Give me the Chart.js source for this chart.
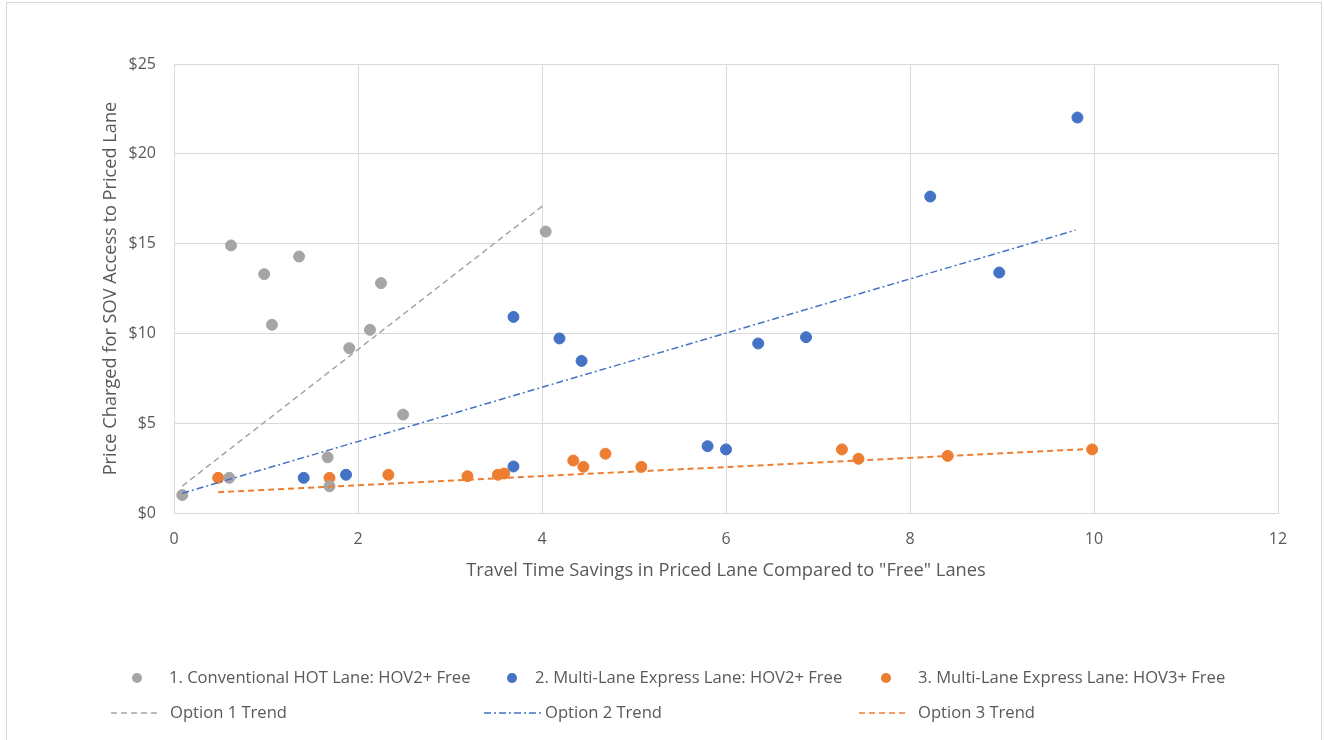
<!DOCTYPE html>
<html>
<head>
<meta charset="utf-8">
<script src="https://cdn.jsdelivr.net/npm/chart.js@4"></script>
<style>
  html, body { margin: 0; padding: 0; background: #fff; }
  #wrap { position: absolute; left: 0; top: 0; width: 1324px; height: 740px; }
  #frame { position: absolute; left: 6px; top: 2px; width: 1314px; height: 745px;
           border: 1px solid #d6d6d6; pointer-events: none; }
</style>
</head>
<body>
<div id="wrap"><canvas id="chart" width="1324" height="740"></canvas></div>
<div id="frame"></div>
<script>
// Dados
const hotX = [0.09, 0.60, 0.62, 0.98, 1.065, 1.36, 1.67, 1.69, 1.905, 2.13, 2.25, 2.49, 4.04];
const hotY = [1.00, 1.96, 14.9, 13.3, 10.48, 14.28, 3.10, 1.49, 9.18, 10.2, 12.8, 5.48, 15.67];

const hov2X = [1.41, 1.87, 3.69, 3.69, 4.19, 4.43, 5.80, 6.00, 6.35, 6.87, 8.22, 8.97, 9.82];
const hov2Y = [1.96, 2.13, 10.92, 2.59, 9.72, 8.47, 3.72, 3.54, 9.44, 9.79, 17.62, 13.39, 22.02];

const hov3X = [0.48, 1.69, 2.33, 3.19, 3.52, 3.59, 4.34, 4.45, 4.69, 5.08, 7.26, 7.44, 8.41, 9.98];
const hov3Y = [1.96, 1.96, 2.13, 2.05, 2.13, 2.20, 2.92, 2.57, 3.30, 2.57, 3.54, 3.02, 3.18, 3.54];

// Linhas de tendência (extremos)
const trend1X = [0.09, 4.02];
const trend1Y = [1.5, 17.15];
const trend2X = [0.09, 9.80];
const trend2Y = [1.1, 15.75];
const trend3X = [0.48, 9.98];
const trend3Y = [1.16, 3.57];

const seriesNames = [
    '1. Conventional HOT Lane: HOV2+ Free',
    '2. Multi-Lane Express Lane: HOV2+ Free',
    '3. Multi-Lane Express Lane: HOV3+ Free'
];
const trendNames = ['Option 1 Trend', 'Option 2 Trend', 'Option 3 Trend'];

const xTicks = [0, 2, 4, 6, 8, 10, 12];
const yTicks = [0, 5, 10, 15, 20, 25];

const GRAY = '#a5a5a5';
const BLUE = '#4472c4';
const ORANGE = '#ed7d31';
const TEXT = '#595959';
const GRID = '#d9d9d9';
const FONT = "'Open Sans', sans-serif";

const toPoints = (xs, ys) => xs.map((x, i) => ({ x: x, y: ys[i] }));

const dashes = [[6, 4], [7, 3, 2, 3], [6, 4]];
const colors = [GRAY, BLUE, ORANGE];

// Legenda desenhada no canvas
const legendPlugin = {
    id: 'excelLegend',
    afterDraw(chart) {
        const ctx = chart.ctx;
        const cols = [
            { marker: 137, text: 169, lineFrom: 111, lineTo: 161, text2: 170 },
            { marker: 512, text: 535, lineFrom: 484, lineTo: 541, text2: 545 },
            { marker: 886, text: 918, lineFrom: 859, lineTo: 909, text2: 918 }
        ];
        const row1 = 678, row2 = 713;
        ctx.save();
        ctx.font = '16.6px ' + FONT;
        ctx.fillStyle = TEXT;
        ctx.textBaseline = 'middle';
        cols.forEach((c, i) => {
            ctx.fillStyle = colors[i];
            ctx.beginPath();
            ctx.arc(c.marker, row1, 5, 0, Math.PI * 2);
            ctx.fill();
            ctx.fillStyle = TEXT;
            ctx.fillText(seriesNames[i], c.text, row1);

            ctx.strokeStyle = colors[i];
            ctx.lineWidth = 1.5;
            ctx.setLineDash(dashes[i]);
            ctx.beginPath();
            ctx.moveTo(c.lineFrom, row2);
            ctx.lineTo(c.lineTo, row2);
            ctx.stroke();
            ctx.setLineDash([]);
            ctx.fillText(trendNames[i], c.text2, row2);
        });
        ctx.restore();
    }
};

const pointSet = (label, xs, ys, color) => ({
    label: label,
    data: toPoints(xs, ys),
    backgroundColor: color,
    borderColor: color,
    pointRadius: 5.5,
    pointHoverRadius: 5.5,
    showLine: false,
    order: 2
});

const trendSet = (label, xs, ys, color, dash, width) => ({
    label: label,
    data: toPoints(xs, ys),
    borderColor: color,
    backgroundColor: color,
    borderWidth: width,
    borderDash: dash,
    pointRadius: 0,
    showLine: true,
    fill: false,
    order: 1
});

new Chart(document.getElementById('chart'), {
    type: 'scatter',
    data: {
        datasets: [
            pointSet(seriesNames[0], hotX, hotY, GRAY),
            pointSet(seriesNames[1], hov2X, hov2Y, BLUE),
            pointSet(seriesNames[2], hov3X, hov3Y, ORANGE),
            trendSet(trendNames[0], trend1X, trend1Y, GRAY, dashes[0], 1.5),
            trendSet(trendNames[1], trend2X, trend2Y, BLUE, dashes[1], 1.5),
            trendSet(trendNames[2], trend3X, trend3Y, ORANGE, dashes[2], 2)
        ]
    },
    options: {
        responsive: false,
        animation: false,
        layout: { padding: { top: 64, right: 46, bottom: 0, left: 0 } },
        plugins: {
            legend: { display: false },
            tooltip: { enabled: false }
        },
        scales: {
            x: {
                type: 'linear',
                min: 0,
                max: 12,
                afterBuildTicks: (axis) => { axis.ticks = xTicks.map(v => ({ value: v })); },
                afterFit: (axis) => { axis.height = 227; },
                ticks: { color: TEXT, font: { family: FONT, size: 16 }, padding: 17 },
                grid: { color: GRID, lineWidth: 1, drawTicks: false },
                border: { color: GRID, width: 1 },
                title: {
                    display: true,
                    text: 'Travel Time Savings in Priced Lane Compared to "Free" Lanes',
                    color: TEXT,
                    font: { family: FONT, size: 18.3 },
                    padding: { top: 0, bottom: 158 }
                }
            },
            y: {
                type: 'linear',
                min: 0,
                max: 25,
                afterBuildTicks: (axis) => { axis.ticks = yTicks.map(v => ({ value: v })); },
                afterFit: (axis) => { axis.width = 174; },
                ticks: {
                    color: TEXT,
                    font: { family: FONT, size: 16 },
                    padding: 18,
                    callback: (v) => '$' + v
                },
                grid: { color: GRID, lineWidth: 1, drawTicks: false },
                border: { color: GRID, width: 1 },
                title: {
                    display: true,
                    text: 'Price Charged for SOV Access to Priced Lane',
                    color: TEXT,
                    font: { family: FONT, size: 18.2 },
                    padding: { top: 100, bottom: 0 }
                }
            }
        }
    },
    plugins: [legendPlugin]
});
</script>
</body>
</html>
